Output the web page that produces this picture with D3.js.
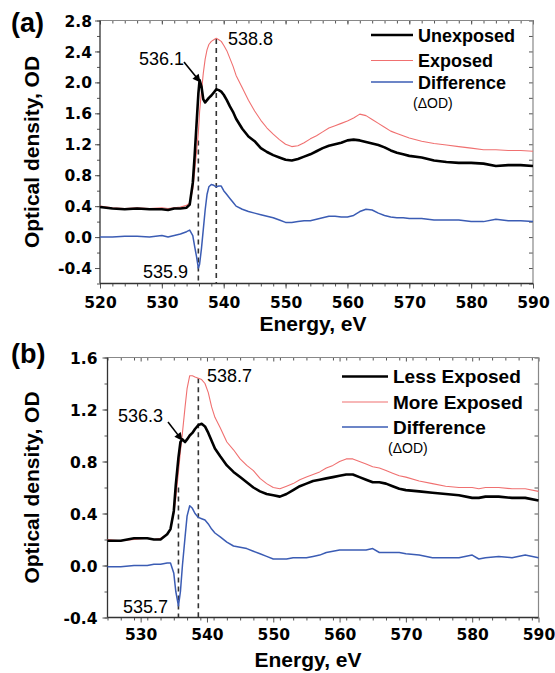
<!DOCTYPE html>
<html><head><meta charset="utf-8">
<script src="https://cdn.jsdelivr.net/npm/d3@7/dist/d3.min.js"></script>
<style>body{margin:0;background:#fff}svg{display:block}</style>
</head><body>
<svg id="c" width="555" height="673"></svg>
<script>
// ---------- Panel (a) data ----------
const aEnergy = [520,522,524,526,528,530,531,532,533,534,534.5,535,535.3,535.6,535.9,536.1,536.4,536.7,537,537.3,537.6,538,538.4,538.8,539.2,539.6,540,540.5,541,541.5,542,543,544,545,546,547,548,549,550,551,552,553,554,555,556,557,558,559,560,561,562,563,564,565,566,567,568,569,570,572,574,576,578,580,582,584,586,588,590];
const aUnexposed = [0.39,0.37,0.36,0.37,0.36,0.36,0.35,0.37,0.37,0.38,0.42,0.70,1.05,1.45,1.85,2.03,1.95,1.78,1.74,1.77,1.80,1.83,1.87,1.91,1.90,1.88,1.84,1.77,1.69,1.62,1.53,1.40,1.30,1.24,1.15,1.10,1.06,1.03,1.00,0.99,1.01,1.04,1.07,1.11,1.15,1.18,1.20,1.22,1.25,1.26,1.25,1.23,1.21,1.19,1.16,1.12,1.09,1.07,1.05,1.03,0.99,0.97,0.96,0.96,0.95,0.92,0.93,0.93,0.92];
const aExposed = [0.40,0.38,0.37,0.38,0.37,0.38,0.37,0.38,0.39,0.41,0.44,0.62,0.85,1.10,1.35,1.62,1.88,2.12,2.30,2.42,2.49,2.53,2.55,2.57,2.55,2.53,2.48,2.41,2.31,2.21,2.09,1.93,1.77,1.63,1.51,1.41,1.33,1.26,1.20,1.17,1.18,1.22,1.27,1.31,1.36,1.41,1.44,1.47,1.50,1.54,1.59,1.57,1.52,1.47,1.42,1.37,1.34,1.31,1.28,1.24,1.21,1.19,1.17,1.15,1.13,1.13,1.12,1.12,1.11];
const aDifference = [0.00,0.00,0.01,0.01,0.00,0.02,0.00,0.02,0.04,0.07,0.09,0.02,-0.12,-0.25,-0.40,-0.35,-0.15,0.10,0.35,0.55,0.65,0.68,0.67,0.65,0.66,0.66,0.60,0.55,0.50,0.45,0.40,0.36,0.33,0.31,0.29,0.27,0.25,0.22,0.19,0.19,0.20,0.21,0.21,0.23,0.25,0.27,0.27,0.26,0.26,0.28,0.33,0.36,0.35,0.31,0.28,0.26,0.25,0.25,0.24,0.24,0.22,0.22,0.22,0.20,0.20,0.23,0.21,0.21,0.20];
const aXTicks = [520,530,540,550,560,570,580,590];
const aYTicks = [-0.4,0.0,0.4,0.8,1.2,1.6,2.0,2.4,2.8];
const aLegend = ["Unexposed","Exposed","Difference"];
const aPeaks = [536.1, 538.8, 535.9];

// ---------- Panel (b) data ----------
const bEnergy = [525,527,529,531,532,533,534,534.5,535,535.3,535.7,536,536.3,536.7,537,537.4,537.8,538.2,538.7,539.2,539.7,540.2,540.7,541.2,542,543,544,545,546,547,548,549,550,551,552,553,554,555,556,557,558,559,560,561,562,563,564,565,566,567,568,569,570,572,574,576,578,580,581,582,584,586,588,590];
const bLess = [0.19,0.19,0.21,0.21,0.20,0.20,0.24,0.28,0.42,0.62,0.83,0.95,0.97,0.95,0.97,1.00,1.02,1.05,1.08,1.09,1.07,1.02,0.96,0.90,0.84,0.77,0.72,0.68,0.64,0.60,0.57,0.55,0.54,0.53,0.55,0.58,0.61,0.63,0.65,0.66,0.67,0.68,0.69,0.70,0.70,0.68,0.66,0.64,0.64,0.63,0.61,0.59,0.58,0.57,0.56,0.55,0.54,0.52,0.52,0.53,0.53,0.52,0.52,0.50];
const bMore = [0.20,0.19,0.20,0.21,0.20,0.21,0.24,0.28,0.40,0.52,0.72,0.88,1.02,1.22,1.36,1.46,1.46,1.45,1.44,1.43,1.40,1.33,1.22,1.14,1.06,0.95,0.89,0.82,0.77,0.73,0.67,0.63,0.60,0.59,0.61,0.63,0.66,0.68,0.70,0.72,0.75,0.77,0.80,0.82,0.82,0.80,0.78,0.76,0.75,0.73,0.71,0.69,0.68,0.65,0.63,0.61,0.60,0.60,0.59,0.60,0.60,0.59,0.59,0.57];
const bDifference = [-0.01,-0.01,0.00,0.00,0.01,0.01,0.02,0.02,-0.06,-0.20,-0.31,-0.20,0.00,0.22,0.38,0.46,0.44,0.40,0.37,0.36,0.35,0.32,0.28,0.25,0.22,0.18,0.15,0.14,0.13,0.11,0.09,0.07,0.05,0.05,0.05,0.06,0.06,0.06,0.07,0.08,0.10,0.11,0.12,0.12,0.12,0.12,0.12,0.13,0.10,0.10,0.10,0.10,0.09,0.08,0.06,0.06,0.06,0.08,0.05,0.06,0.07,0.06,0.08,0.06];
const bXTicks = [530,540,550,560,570,580,590];
const bYTicks = [-0.4,0.0,0.4,0.8,1.2,1.6];
const bLegend = ["Less Exposed","More Exposed","Difference"];
const bPeaks = [536.3, 538.7, 535.7];

const COLORS = ["#000000", "#f07070", "#3b5cb4"];
const WIDTHS = [2.6, 1.1, 1.5];
const svg = d3.select("#c");
const TICKFONT = "'DejaVu Sans', sans-serif";
const TITLEFONT = "'Liberation Sans', Arial, sans-serif";
const fmt1 = d3.format(".1f");
const fmt = v => fmt1(v).replace("\u2212", "-");

function drawPanel(p) {
  const x = d3.scaleLinear().domain(p.xDomain).range([p.left, p.right]);
  const y = d3.scaleLinear().domain(p.yDomain).range([p.bottom, p.top]);
  const g = svg.append("g");

  const minorX = d3.range(p.xDomain[0], p.xDomain[1] + 0.001, 2);
  const minorY = d3.range(p.yDomain[0], p.yDomain[1] + 0.001, 0.2).map(v => +v.toFixed(2));

  // bottom
  g.append("g").attr("transform", `translate(0,${p.bottom})`)
    .call(d3.axisBottom(x).tickValues(minorX).tickSize(3).tickFormat(""));
  const bxM = g.append("g").attr("transform", `translate(0,${p.bottom})`)
    .call(d3.axisBottom(x).tickValues(p.xTicks).tickSize(5).tickFormat(d3.format("d")));
  bxM.selectAll("text").attr("dy", null).attr("y", p.xLabOff)
    .style("font-family", TICKFONT).style("font-weight", "bold").style("font-size", "15.5px").attr("fill", "#000");
  // top (inward)
  g.append("g").attr("transform", `translate(0,${p.top})`)
    .call(d3.axisTop(x).tickValues(minorX).tickSize(-3).tickFormat(""));
  g.append("g").attr("transform", `translate(0,${p.top})`)
    .call(d3.axisTop(x).tickValues(p.xTicks).tickSize(-4).tickFormat(""));
  // left
  g.append("g").attr("transform", `translate(${p.left},0)`)
    .call(d3.axisLeft(y).tickValues(minorY).tickSize(3).tickFormat(""));
  const ly = g.append("g").attr("transform", `translate(${p.left},0)`)
    .call(d3.axisLeft(y).tickValues(p.yTicks).tickSize(5).tickFormat(fmt));
  ly.selectAll("text").attr("x", -p.yLabOff).attr("dy", "0.36em")
    .style("font-family", TICKFONT).style("font-weight", "bold").style("font-size", "15.5px").attr("fill", "#000");
  // right (inward)
  g.append("g").attr("transform", `translate(${p.right},0)`)
    .call(d3.axisRight(y).tickValues(minorY).tickSize(-4).tickFormat(""));

  g.selectAll(".domain").remove();
  g.selectAll(".tick line").attr("stroke", "#555").attr("stroke-width", 1);

  // frame
  g.append("line").attr("x1", p.left).attr("x2", p.right).attr("y1", p.top).attr("y2", p.top).attr("stroke", "#888").attr("stroke-width", 1.2);
  g.append("line").attr("x1", p.right).attr("x2", p.right).attr("y1", p.top).attr("y2", p.bottom).attr("stroke", "#888").attr("stroke-width", 1.2);
  g.append("line").attr("x1", p.left).attr("x2", p.left).attr("y1", p.top).attr("y2", p.bottom).attr("stroke", "#333").attr("stroke-width", 1.3);
  g.append("line").attr("x1", p.left).attr("x2", p.right).attr("y1", p.bottom).attr("y2", p.bottom).attr("stroke", "#333").attr("stroke-width", 1.3);

  // dashed guide lines
  g.append("line").attr("x1", x(p.peaks[1])).attr("x2", x(p.peaks[1]))
    .attr("y1", y(p.dash1Top)).attr("y2", p.bottom)
    .attr("stroke", "#333").attr("stroke-width", 1.6).attr("stroke-dasharray", "5,4");
  g.append("line").attr("x1", x(p.peaks[2])).attr("x2", x(p.peaks[2]))
    .attr("y1", y(p.dash2Top)).attr("y2", p.bottom)
    .attr("stroke", "#333").attr("stroke-width", 1.6).attr("stroke-dasharray", "5,4");

  // series
  const line = d3.line().x(d => x(d[0])).y(d => y(d[1]));
  [2, 1, 0].forEach(i => {
    const pts = p.energy.map((e, k) => [e, p.series[i][k]]);
    g.append("path").attr("d", line(pts)).attr("fill", "none")
      .attr("stroke", COLORS[i]).attr("stroke-width", WIDTHS[i]).attr("stroke-linejoin", "round");
  });

  // annotations
  const ann = (t, ax, ay) => g.append("text").attr("x", ax).attr("y", ay).text(t)
    .style("font-family", TITLEFONT).style("font-size", "18px").attr("fill", "#000");
  ann(fmt(p.peaks[0]), p.ann0[0], p.ann0[1]);
  ann(fmt(p.peaks[1]), p.ann1[0], p.ann1[1]);
  ann(fmt(p.peaks[2]), p.ann2[0], p.ann2[1]);

  // arrow
  const ax1 = p.arrow[0], ay1 = p.arrow[1], ax2 = x(p.peaks[0]) + p.arrowTipDx, ay2 = y(p.arrowTipV);
  const ang = Math.atan2(ay2 - ay1, ax2 - ax1);
  const hl = 8, hw = 4;
  g.append("line").attr("x1", ax1).attr("y1", ay1)
    .attr("x2", ax2 - Math.cos(ang) * hl * 0.8).attr("y2", ay2 - Math.sin(ang) * hl * 0.8)
    .attr("stroke", "#000").attr("stroke-width", 1.6);
  const bxp = ax2 - Math.cos(ang) * hl, byp = ay2 - Math.sin(ang) * hl;
  g.append("path").attr("d", `M${ax2},${ay2}L${bxp - Math.sin(ang) * hw},${byp + Math.cos(ang) * hw}L${bxp + Math.sin(ang) * hw},${byp - Math.cos(ang) * hw}Z`)
    .attr("fill", "#000");

  // legend
  p.legend.forEach((name, i) => {
    const ly0 = p.legY[i];
    g.append("line").attr("x1", p.legX[0]).attr("x2", p.legX[1]).attr("y1", ly0).attr("y2", ly0)
      .attr("stroke", COLORS[i]).attr("stroke-width", WIDTHS[i]);
    g.append("text").attr("x", p.legX[1] + 5).attr("y", ly0 + 6.5).text(name)
      .style("font-family", TITLEFONT).style("font-weight", "bold").style("font-size", p.legFont + "px").attr("fill", "#000");
  });
  g.append("text").attr("x", p.legX[1]).attr("y", p.legY[2] + 26).text("(ΔOD)")
    .style("font-family", TITLEFONT).style("font-size", "14px").attr("fill", "#000");

  // titles
  g.append("text").attr("x", p.xTitle[0]).attr("y", p.xTitle[1]).attr("text-anchor", "middle").text("Energy, eV")
    .style("font-family", TITLEFONT).style("font-weight", "bold").style("font-size", "21px");
  g.append("text").attr("transform", `translate(${p.yTitleX},${(p.top + p.bottom) / 2}) rotate(-90)`)
    .attr("text-anchor", "middle").text("Optical density, OD")
    .style("font-family", TITLEFONT).style("font-weight", "bold").style("font-size", "21px");
  g.append("text").attr("x", 11).attr("y", p.tagY).text(p.tag)
    .style("font-family", TITLEFONT).style("font-weight", "bold").style("font-size", "27px");
}

drawPanel({
  energy: aEnergy, series: [aUnexposed, aExposed, aDifference],
  xDomain: [520, 590], yDomain: [-0.6, 2.8],
  left: 100, right: 533, top: 20.5, bottom: 283.5,
  xTicks: aXTicks, yTicks: aYTicks, xLabOff: 24.5, yLabOff: 8,
  peaks: aPeaks, dash1Top: 2.56, dash2Top: 1.25,
  ann0: [139, 65], ann1: [228, 45], ann2: [143, 278],
  arrow: [184, 62], arrowTipDx: 1, arrowTipV: 2.0,
  legend: aLegend, legX: [371, 413], legY: [35, 60.5, 82], legFont: 18,
  xTitle: [313, 331], yTitleX: 39, tag: "(a)", tagY: 32
});
drawPanel({
  energy: bEnergy, series: [bLess, bMore, bDifference],
  xDomain: [525, 590], yDomain: [-0.4, 1.6],
  left: 107.5, right: 538.5, top: 357.5, bottom: 617.5,
  xTicks: bXTicks, yTicks: bYTicks, xLabOff: 22.5, yLabOff: 10,
  peaks: bPeaks, dash1Top: 1.44, dash2Top: 0.6,
  ann0: [118, 421.5], ann1: [207, 381.5], ann2: [123, 613],
  arrow: [168, 422], arrowTipDx: 0, arrowTipV: 0.96,
  legend: bLegend, legX: [342, 388], legY: [376.5, 402, 427], legFont: 19,
  xTitle: [308, 667], yTitleX: 39, tag: "(b)", tagY: 363
});
</script>
</body></html>
